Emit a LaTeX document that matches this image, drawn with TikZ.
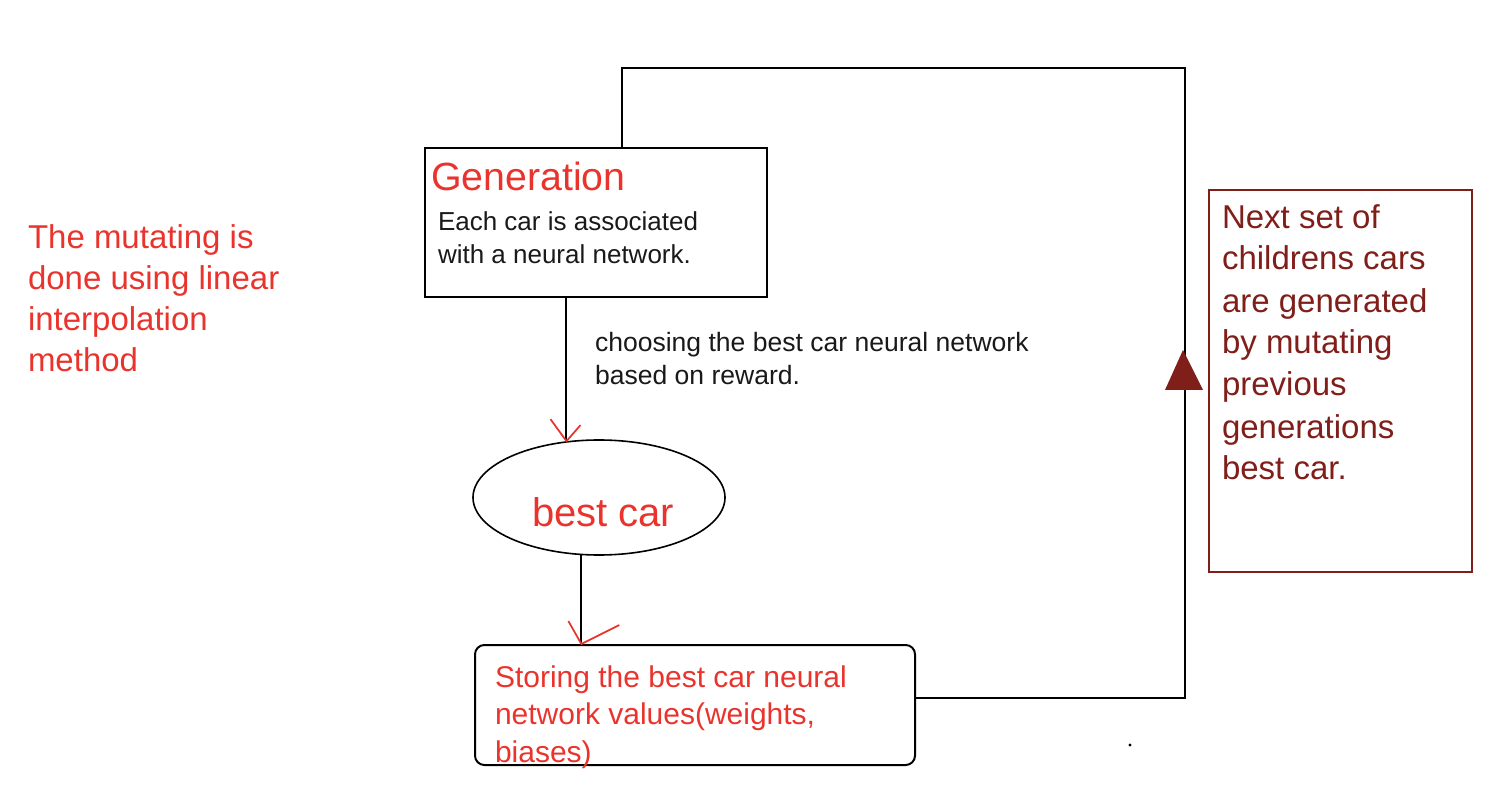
\documentclass[tikz,border=0pt]{standalone}
\usepackage{fontspec}
\setmainfont{Liberation Sans}
\usetikzlibrary{shapes.geometric}
\definecolor{flowred}{RGB}{233,52,45}
\definecolor{flowdark}{RGB}{128,30,26}
\definecolor{flowtext}{RGB}{25,25,25}
\begin{document}
\begin{tikzpicture}[x=0.75pt,y=-0.75pt,line width=1.5pt,
  txt/.style={inner sep=0pt,anchor=base west,align=left}]
\useasboundingbox (0,0) rectangle (1504,798);
\path (596,222.5) node[draw,minimum width=256.5pt,minimum height=111.75pt] (gen) {}
		(430,191) node[txt,text=flowred,font=\fontsize{29.5}{35}\selectfont] (gentitle) {Generation}
		(437,263.5) node[txt,text=flowtext,font=\fontsize{19.5}{24.75}\selectfont] (gentext) {Each car is associated\\with a neural network.}
		(594,385) node[txt,text=flowtext,font=\fontsize{19.9}{24.75}\selectfont] (choose) {choosing the best car neural network\\based on reward.}
		(599,497.5) node[draw,ellipse,line width=1.2pt,minimum width=189pt,minimum height=86.25pt] (best) {}
		(531,527) node[txt,text=flowred,font=\fontsize{30}{36}\selectfont] (bestlbl) {best car}
		(695,705) node[draw,rounded corners=7pt,minimum width=330pt,minimum height=90pt] (store) {}
		(494,762) node[txt,text=flowred,font=\fontsize{22.5}{28}\selectfont] (storetxt) {Storing the best car neural\\network values(weights,\\biases)}
		(1340.5,381) node[draw=flowdark,minimum width=197.25pt,minimum height=286.5pt] (next) {}
		(1221,480) node[txt,text=flowdark,font=\fontsize{24.75}{31.5}\selectfont] (nexttxt) {Next set of\\childrens cars\\are generated\\by mutating\\previous\\generations\\best car.}
		(27,372) node[txt,text=flowred,font=\fontsize{24.75}{30.75}\selectfont] (mutate) {The mutating is\\done using linear\\interpolation\\method}
;

\coordinate (bestin) at (best.120);
\coordinate (storein) at (best.253 |- store.north);

\draw (bestin |- gen.south) -- (bestin);
\draw[flowred,line width=1.3pt] ([shift={(-16,-22)}]bestin) -- (bestin) -- ([shift={(14,-16)}]bestin);
\draw (best.253) -- (storein);
\draw[flowred,line width=1.3pt] ([shift={(-13,-23)}]storein) -- (storein) -- ([shift={(38,-19)}]storein);

\draw ([yshift=5.25pt]store.east) -- (1185,698) -- (1185,68) -- (622,68) -- (622,68 |- gen.north);
\fill[flowdark] (1183,350) -- (1203,390) -- (1165,390) -- cycle;
\fill (1130,745) circle (1.2pt);

\end{tikzpicture}
\end{document}
